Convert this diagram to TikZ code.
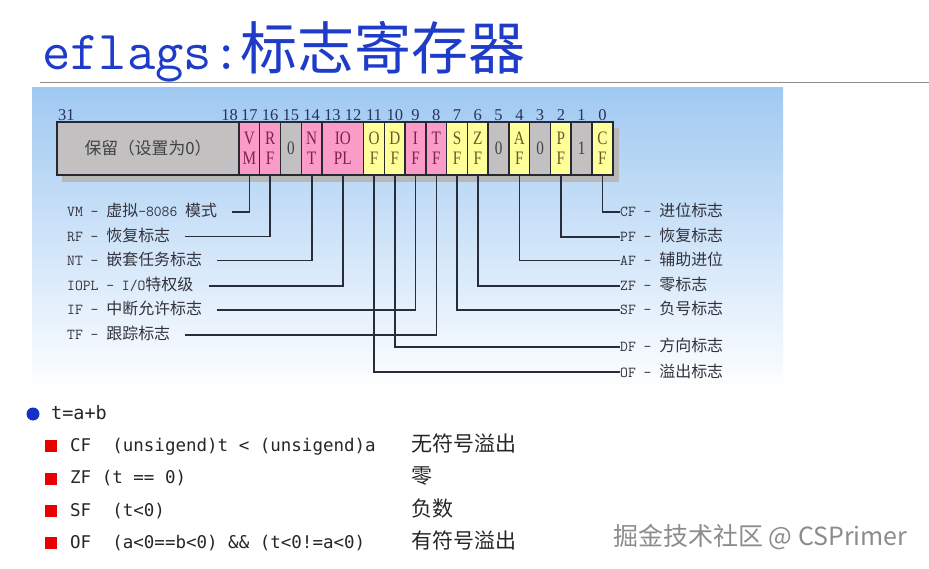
\documentclass[tikz,border=0pt]{standalone}
\usepackage{fontspec}
\setmainfont{Liberation Serif}
\newfontfamily\boxfont[FakeStretch=0.8]{Liberation Serif}
\newfontfamily\listfont{DejaVu Sans Mono}
\newfontfamily\cjk[Scale=1.2]{Noto Sans CJK SC}
\newfontfamily\labcjk[Scale=1.05]{Noto Sans CJK SC}
\newfontfamily\wmfont{Noto Sans CJK SC}
\newcommand{\zh}[1]{{\cjk #1}}
\newcommand{\lz}[1]{{\labcjk #1}}
\definecolor{titleblue}{RGB}{30,60,200}
\definecolor{bgtop}{RGB}{160,201,242}
\definecolor{bgmid}{RGB}{205,226,248}
\definecolor{boxline}{RGB}{40,40,50}
\definecolor{reggray}{RGB}{194,192,192}
\definecolor{flagpink}{RGB}{250,155,200}
\definecolor{flagyellow}{RGB}{255,255,153}
\definecolor{pinktext}{RGB}{125,35,75}
\definecolor{yellowtext}{RGB}{105,90,45}
\definecolor{graytext}{RGB}{65,65,70}
\definecolor{numblue}{RGB}{40,50,90}
\definecolor{labtext}{RGB}{50,50,60}
\definecolor{leadline}{RGB}{40,45,60}
\definecolor{dotblue}{RGB}{20,50,200}
\definecolor{sqred}{RGB}{230,0,0}
\definecolor{wmgray}{RGB}{140,140,140}

\begin{document}
\begin{tikzpicture}[x=1pt, y=-1pt,
  bit/.style={draw=boxline, line width=1.5pt, minimum width=20.75pt,
              minimum height=53pt, inner sep=0pt, align=center,
              font=\boxfont\fontsize{19}{20}\selectfont},
  pinkbit/.style={bit, fill=flagpink, text=pinktext},
  yellowbit/.style={bit, fill=flagyellow, text=yellowtext},
  graybit/.style={bit, fill=reggray, text=graytext},
  num/.style={font=\fontsize{16.5}{16.5}\selectfont, text=numblue, inner sep=0pt},
  lab/.style={font=\ttfamily\fontsize{15.2}{18}\selectfont, text=labtext,
              anchor=west, inner xsep=0pt, text height=12pt, text depth=2pt},
  lead/.style={draw=leadline, line width=1.6pt},
  row/.style={font=\listfont\fontsize{17.5}{20}\selectfont, text=black!85,
              anchor=west, inner sep=0pt, text height=13pt, text depth=3pt},
  square/.style={fill=sqred, minimum size=12pt, inner sep=0pt}]
\fill[white] (0,0) rectangle (929,569);
\useasboundingbox (0,0) rectangle (929,569);
% title
\node[anchor=base west, inner sep=0pt, text=titleblue] (title) at (42,70)
  {\ttfamily\fontsize{55}{57}\selectfont eflags:{\wmfont\fontsize{57}{59}\selectfont 标志寄存器}};
\draw[black!45, line width=0.8pt] (40,82) -- (929,82);
% register picture
\shade[top color=bgtop, middle color=bgmid, bottom color=white] (32,88) rectangle (783,392);
\fill[black!28] (62,128) rectangle (619,182);
\node[num, anchor=west] (n31) at (58,115) {31};
\node[num, anchor=east] (n18) at (238,115) {18};
\node[num] (n17) at (249.4,115) {17};
\node[num] (n16) at (270.1,115) {16};
\node[num] (n15) at (290.9,115) {15};
\node[num] (n14) at (311.7,115) {14};
\node[num] (n13) at (332.4,115) {13};
\node[num] (n12) at (353.2,115) {12};
\node[num] (n11) at (374.0,115) {11};
\node[num] (n10) at (394.8,115) {10};
\node[num] (n9) at (415.5,115) {9};
\node[num] (n8) at (436.3,115) {8};
\node[num] (n7) at (457.1,115) {7};
\node[num] (n6) at (477.8,115) {6};
\node[num] (n5) at (498.6,115) {5};
\node[num] (n4) at (519.4,115) {4};
\node[num] (n3) at (540.1,115) {3};
\node[num] (n2) at (560.9,115) {2};
\node[num] (n1) at (581.6,115) {1};
\node[num] (n0) at (602.4,115) {0};
\node[graybit, minimum width=182pt, font=\fontsize{14}{16}\selectfont] (bres) at (148,148.5)
  {\zh{保留（设置为0）}};
\node[pinkbit] (bvm) at (249.4,148.5) {V\\M};
\node[pinkbit] (brf) at (270.1,148.5) {R\\F};
\node[graybit] (b15) at (290.9,148.5) {0};
\node[pinkbit] (bnt) at (311.7,148.5) {N\\T};
\node[pinkbit, minimum width=41.5pt] (biopl) at (342.8,148.5) {IO\\PL};
\node[yellowbit] (bof) at (374.0,148.5) {O\\F};
\node[yellowbit] (bdf) at (394.8,148.5) {D\\F};
\node[pinkbit] (bif) at (415.5,148.5) {I\\F};
\node[pinkbit] (btf) at (436.3,148.5) {T\\F};
\node[yellowbit] (bsf) at (457.1,148.5) {S\\F};
\node[yellowbit] (bzf) at (477.8,148.5) {Z\\F};
\node[graybit] (b5) at (498.6,148.5) {0};
\node[yellowbit] (baf) at (519.4,148.5) {A\\F};
\node[graybit] (b3) at (540.1,148.5) {0};
\node[yellowbit] (bpf) at (560.9,148.5) {P\\F};
\node[graybit] (b1) at (581.6,148.5) {1};
\node[yellowbit] (bcf) at (602.4,148.5) {C\\F};
% flag names, left side
\node[lab] (lvm) at (67,212) {VM - \lz{虚拟}-8086 \lz{模式}};
\node[lab] (lrf) at (67,236.5) {RF - \lz{恢复标志}};
\node[lab] (lnt) at (67,260.5) {NT - \lz{嵌套任务标志}};
\node[lab] (liopl) at (67,286) {IOPL - I/O\lz{特权级}};
\node[lab] (lif) at (67,310) {IF - \lz{中断允许标志}};
\node[lab] (ltf) at (67,335) {TF - \lz{跟踪标志}};
\draw[lead] (bvm.south) |- ([xshift=15pt]lvm.east);
\draw[lead] (brf.south) |- ([xshift=15pt]lrf.east);
\draw[lead] (bnt.south) |- ([xshift=15pt]lnt.east);
\draw[lead] (biopl.south) |- ([xshift=15pt]liopl.east);
\draw[lead] (bif.south) |- ([xshift=15pt]lif.east);
\draw[lead] (btf.south) |- ([xshift=15pt]ltf.east);
% flag names, right side
\node[lab] (rcf) at (620,212) {CF - \lz{进位标志}};
\node[lab] (rpf) at (620,237) {PF - \lz{恢复标志}};
\node[lab] (raf) at (620,260.5) {AF - \lz{辅助进位}};
\node[lab] (rzf) at (620,286) {ZF - \lz{零标志}};
\node[lab] (rsf) at (620,310) {SF - \lz{负号标志}};
\node[lab] (rdf) at (620,347) {DF - \lz{方向标志}};
\node[lab] (rof) at (620,372) {OF - \lz{溢出标志}};
\draw[lead] (bcf.south) |- (rcf.west);
\draw[lead] (bpf.south) |- (rpf.west);
\draw[lead] (baf.south) |- (raf.west);
\draw[lead] (bzf.south) |- (rzf.west);
\draw[lead] (bsf.south) |- (rsf.west);
\draw[lead] (bdf.south) |- (rdf.west);
\draw[lead] (bof.south) |- (rof.west);
% t=a+b list
\node[circle, fill=dotblue, minimum size=13pt, inner sep=0pt] (dot) at (33,414) {};
\node[row, font=\listfont\fontsize{18.5}{20}\selectfont] (sum) at (51,414.5) {t=a+b};
\node[square] (qcf) at (51,446) {};
\node[square] (qzf) at (51,478.5) {};
\node[square] (qsf) at (51,511) {};
\node[square] (qof) at (51,543) {};
\node[row] (tcf) at (70,446) {CF\ \ (unsigend)t < (unsigend)a};
\node[row] (tzf) at (70,478.5) {ZF (t == 0)};
\node[row] (tsf) at (70,511) {SF\ \ (t<0)};
\node[row] (tof) at (70,543) {OF\ \ (a<0==b<0) \&\& (t<0!=a<0)};
\node[row] (zcf) at (411,446) {\zh{无符号溢出}};
\node[row] (zzf) at (411,478.5) {\zh{零}};
\node[row] (zsf) at (411,511) {\zh{负数}};
\node[row] (zof) at (411,543) {\zh{有符号溢出}};
\node[anchor=west, inner sep=0pt, text=wmgray, font=\wmfont\fontsize{25}{27}\selectfont]
  (wm) at (613,537) {掘金技术社区 @ CSPrimer};
\end{tikzpicture}
\end{document}
